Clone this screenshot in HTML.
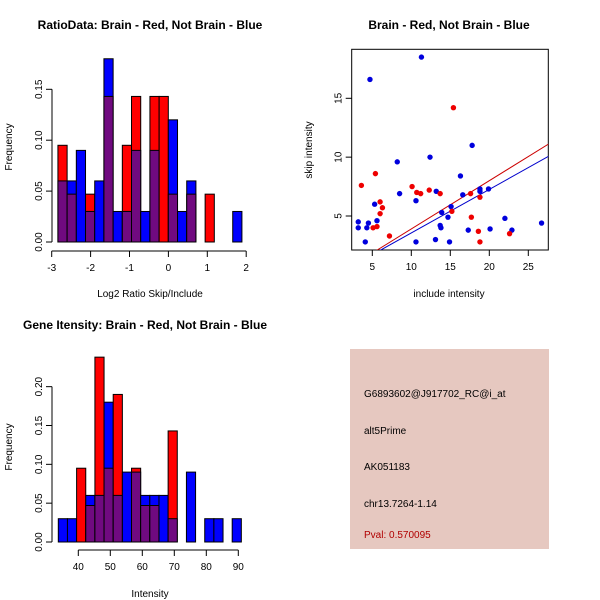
<!DOCTYPE html>
<html><head><meta charset="utf-8"><style>
body{margin:0;background:#fff}
svg{display:block;font-family:"Liberation Sans",sans-serif}
</style></head><body>
<svg id="c" width="600" height="600" viewBox="0 0 600 600">
<rect width="600" height="600" fill="#fff"/>
<text x="150" y="29" font-size="12" font-weight="bold" text-anchor="middle">RatioData: Brain - Red, Not Brain - Blue</text>
<text x="449" y="29" font-size="12" font-weight="bold" text-anchor="middle">Brain - Red, Not Brain - Blue</text>
<text x="145" y="329" font-size="12" font-weight="bold" text-anchor="middle">Gene Itensity: Brain - Red, Not Brain - Blue</text>
<text x="150" y="297" font-size="10" text-anchor="middle">Log2 Ratio Skip/Include</text>
<text x="12" y="147" font-size="10" text-anchor="middle" transform="rotate(-90 12 147)">Frequency</text>
<text x="150" y="597" font-size="10" text-anchor="middle">Intensity</text>
<text x="12" y="447" font-size="10" text-anchor="middle" transform="rotate(-90 12 447)">Frequency</text>
<text x="449" y="297" font-size="10" text-anchor="middle">include intensity</text>
<text x="312" y="150" font-size="10" text-anchor="middle" transform="rotate(-90 312 150)">skip intensity</text>
<g>
<rect x="350" y="349" width="199" height="200" fill="#e6c8c0"/>
<text x="364" y="397" font-size="10">G6893602@J917702_RC@i_at</text>
<text x="364" y="434" font-size="10">alt5Prime</text>
<text x="364" y="470" font-size="10">AK051183</text>
<text x="364" y="507" font-size="10">chr13.7264-1.14</text>
<text x="364" y="538" font-size="10" fill="#b00000">Pval: 0.570095</text>
</g>
<g id="g1"></g><g id="g2"></g><g id="g3"></g>
</svg>
<script>
const ratioBinStart = -2.84, ratioBinWidth = 0.2365;
const ratioRed  = [0.095,0.047,0,0.047,0,0.143,0,0.095,0.143,0,0.143,0.143,0.047,0,0.047,0,0.047,0,0,0];
const ratioBlue = [0.06,0.06,0.09,0.03,0.06,0.18,0.03,0.03,0.09,0.03,0.09,0,0.12,0.03,0.06,0,0,0,0,0.03];
const ratioXTicks = [-3,-2,-1,0,1,2];
const ratioYTicks = ["0.00","0.05","0.10","0.15"];
const intBinStart = 33.75, intBinWidth = 2.86;
const intRed  = [0,0,0.095,0.047,0.238,0.095,0.19,0,0.095,0.047,0.047,0,0.143,0,0,0,0,0,0,0];
const intBlue = [0.03,0.03,0,0.06,0.06,0.18,0.06,0.09,0.09,0.06,0.06,0.06,0.03,0,0.09,0,0.03,0.03,0,0.03];
const intXTicks = [40,50,60,70,80,90];
const intYTicks = ["0.00","0.05","0.10","0.15","0.20"];
const blueX = [3.2,3.2,4.1,4.3,4.5,4.7,5.3,5.6,8.2,8.5,10.6,10.6,11.3,12.4,13.1,13.2,13.7,13.8,13.9,14.7,14.9,15.1,16.3,16.6,17.3,17.8,18.8,18.8,19.9,22.0,20.1,22.9,26.7];
const blueY = [4.5,4.0,2.8,4.0,4.4,16.6,6.0,4.6,9.6,6.9,2.8,6.3,18.5,10.0,3.0,7.1,4.2,4.0,5.3,4.9,2.8,5.8,8.4,6.8,3.8,11.0,7.3,7.1,7.3,4.8,3.9,3.8,4.4];
const redX = [3.6,5.4,5.1,5.6,6.0,6.0,6.3,7.2,10.1,10.7,11.2,12.3,13.7,15.2,15.4,17.6,17.7,18.6,18.8,18.8,22.6];
const redY = [7.6,8.6,4.0,4.1,6.2,5.2,5.7,3.3,7.5,7.0,6.9,7.2,6.9,5.4,14.2,6.9,4.9,3.7,6.6,2.8,3.5];
const redFit = [-0.2,0.41];
const blueFit = [-0.14,0.37];
const scatterXTicks = [5,10,15,20,25];
const scatterYTicks = [5,10,15];

const NS="http://www.w3.org/2000/svg";
function mk(p,t,a){const e=document.createElementNS(NS,t);for(const k in a)e.setAttribute(k,a[k]);p.appendChild(e);return e;}

function hist(g,opt){
  const sx=v=>opt.x0px+(v-opt.x0)*opt.kx, sy=v=>opt.base-v*opt.ky;
  for(let i=0;i<opt.red.length;i++){
    const a=opt.binStart+i*opt.binW, b=a+opt.binW, r=opt.red[i], bl=opt.blue[i];
    const x=sx(a), w=sx(b)-sx(a);
    const lo=Math.min(r,bl), hi=Math.max(r,bl);
    if(hi>0){
      const e=mk(g,'rect',{x:x,y:sy(hi),width:w,height:sy(0)-sy(hi),fill:r>bl?'#ff0000':'#0000ff',stroke:'#000','stroke-width':1});
      
      
    }
    if(lo>0){
      const e=mk(g,'rect',{x:x,y:sy(lo),width:w,height:sy(0)-sy(lo),fill:'#700a80',stroke:'#000','stroke-width':1});
      
      
    }
  }
  const ax=mk(g,'g',{stroke:'#000','stroke-width':1,fill:'none'});
  
  
  const xt=opt.xticks;
  mk(ax,'line',{x1:sx(xt[0]),x2:sx(xt[xt.length-1]),y1:opt.xaxisY,y2:opt.xaxisY});
  xt.forEach(v=>{mk(ax,'line',{x1:sx(v),x2:sx(v),y1:opt.xaxisY,y2:opt.xaxisY+6});
    const t=mk(g,'text',{x:sx(v),y:opt.xaxisY+20,'font-size':10,'text-anchor':'middle'});t.textContent=v;});
  const yt=opt.yticks;
  mk(ax,'line',{x1:opt.yaxisX,x2:opt.yaxisX,y1:sy(+yt[0]),y2:sy(+yt[yt.length-1])});
  yt.forEach(v=>{const y=sy(+v);mk(ax,'line',{x1:opt.yaxisX-6,x2:opt.yaxisX,y1:y,y2:y});
    const t=mk(g,'text',{x:opt.yaxisX-10,y:y,'font-size':10,'text-anchor':'middle',transform:`rotate(-90 ${opt.yaxisX-10} ${y})`});t.textContent=v;});
}
hist(document.getElementById('g1'),{name:'ratio',red:ratioRed,blue:ratioBlue,binStart:ratioBinStart,binW:ratioBinWidth,
  x0:-3,x0px:51.7,kx:38.9,base:242,ky:1018,xticks:ratioXTicks,yticks:ratioYTicks,xaxisY:251,yaxisX:52});
hist(document.getElementById('g2'),{name:'intensity',red:intRed,blue:intBlue,binStart:intBinStart,binW:intBinWidth,
  x0:40,x0px:78.3,kx:3.2,base:542,ky:776.7,xticks:intXTicks,yticks:intYTicks,xaxisY:550,yaxisX:52});

(function(){
  const g=document.getElementById('g3');
  const L=351.7,R=548.3,T=49.3,B=250;
  const sx=v=>372.3+(v-5)*7.8, sy=v=>216-(v-5)*11.77;
  mk(g,'defs',{}).innerHTML='<clipPath id="cl"><rect x="'+L+'" y="'+T+'" width="'+(R-L)+'" height="'+(B-T)+'"/></clipPath>';
  const box=mk(g,'rect',{x:L,y:T,width:R-L,height:B-T,fill:'none',stroke:'#000'});
  
  
  scatterXTicks.forEach(v=>{mk(g,'line',{x1:sx(v),x2:sx(v),y1:B,y2:B+6,stroke:'#000'});
    const t=mk(g,'text',{x:sx(v),y:B+20,'font-size':10,'text-anchor':'middle'});t.textContent=v;});
  scatterYTicks.forEach(v=>{mk(g,'line',{x1:L-6,x2:L,y1:sy(v),y2:sy(v),stroke:'#000'});
    const t=mk(g,'text',{x:L-10,y:sy(v),'font-size':10,'text-anchor':'middle',transform:`rotate(-90 ${L-10} ${sy(v)})`});t.textContent=v;});
  const lg=mk(g,'g',{'clip-path':'url(#cl)'});
  [[redFit,'#cc0000','red-fit-line'],[blueFit,'#0000cc','blue-fit-line']].forEach(([f,c,n])=>{
    const x1=0,x2=40;
    const e=mk(lg,'line',{x1:sx(x1),y1:sy(f[0]+f[1]*x1),x2:sx(x2),y2:sy(f[0]+f[1]*x2),stroke:c,'stroke-width':1});
    
    
  });
  blueX.forEach((v,i)=>{const e=mk(g,'circle',{cx:sx(v),cy:sy(blueY[i]),r:2.7,fill:'#0000dd'});
    
    });
  redX.forEach((v,i)=>{const e=mk(g,'circle',{cx:sx(v),cy:sy(redY[i]),r:2.7,fill:'#ee0000'});
    
    });
})();
</script>
</body></html>
